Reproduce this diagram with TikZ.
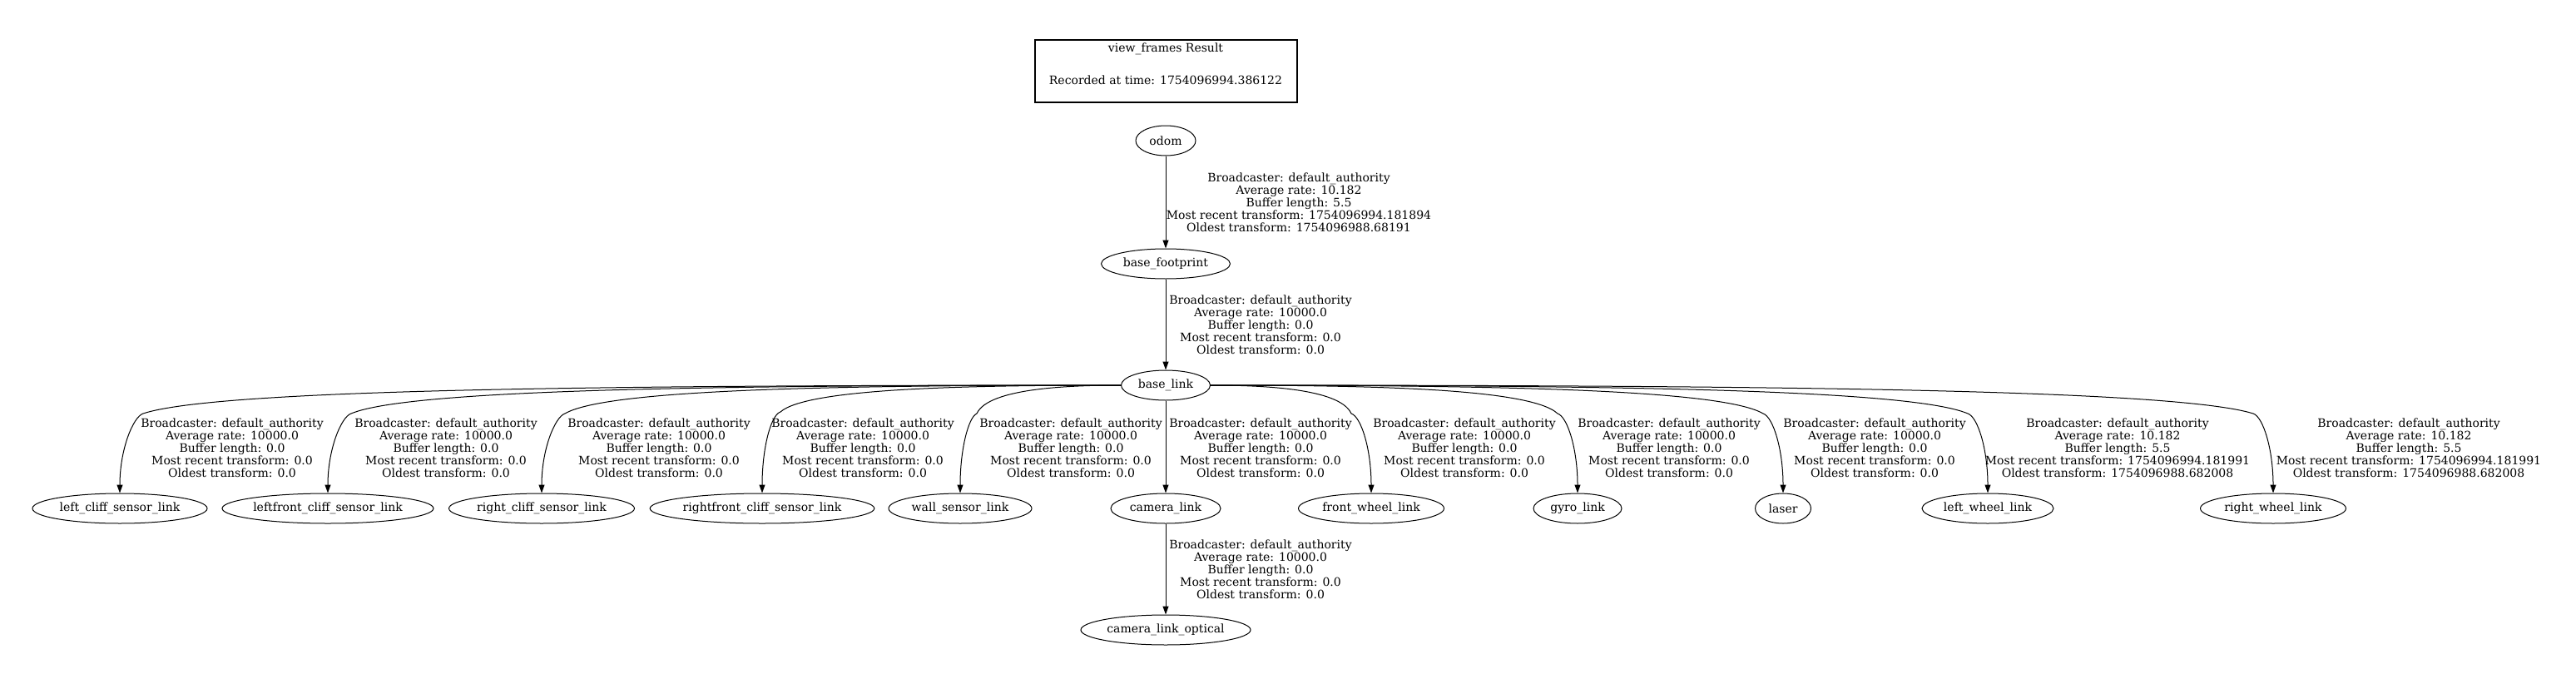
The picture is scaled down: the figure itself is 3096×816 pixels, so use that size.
\documentclass[tikz,border=0pt]{standalone}
\usepackage{fontspec}
\setmainfont{DejaVu Serif}
\usetikzlibrary{arrows.meta,shapes.geometric}
\newcommand\tfzerotxt{Broadcaster: default\_authority\\Average rate: 10000.0\\Buffer length: 0.0\\Most recent transform: 0.0\\Oldest transform: 0.0}
\newcommand\tfwheeltxt{Broadcaster: default\_authority\\Average rate: 10.182\\Buffer length: 5.5\\Most recent transform: 1754096994.181991\\Oldest transform: 1754096988.682008}
\begin{document}
\begin{tikzpicture}[x=1pt,y=-1pt,
  every node/.style={font=\fontsize{14}{15}\selectfont},
  frame/.style={ellipse,draw,line width=1pt,inner sep=0pt,minimum height=36pt},
  lbl/.style={align=center,inner sep=0pt},
  tf/.style={line width=1pt,-{Triangle[length=10pt,width=7pt]}}]
\useasboundingbox[fill=white] (0,0) rectangle (3096,816);

% legend
\node[draw,line width=2pt,minimum width=315pt,minimum height=75pt,inner sep=0pt] (legend) at (1401.5,85.5) {};
\node (legendA) at (1401,59) {view\_frames Result};
\node (legendB) at (1401,96) {Recorded at time: 1754096994.386122};

% frames
\node[frame,minimum width=72pt]  (odom) at (1401,169) {odom};
\node[frame,minimum width=155pt] (fp)   at (1401,317) {base\_footprint};
\node[frame,minimum width=107pt] (bl)   at (1401,463) {base\_link};

\node[frame,minimum width=210pt] (lc)  at (144,611)  {left\_cliff\_sensor\_link};
\node[frame,minimum width=254pt] (lfc) at (394,611)  {leftfront\_cliff\_sensor\_link};
\node[frame,minimum width=223pt] (rc)  at (651,611)  {right\_cliff\_sensor\_link};
\node[frame,minimum width=268pt] (rfc) at (916,611)  {rightfront\_cliff\_sensor\_link};
\node[frame,minimum width=172pt] (ws)  at (1154,611) {wall\_sensor\_link};
\node[frame,minimum width=132pt] (cam) at (1401,611) {camera\_link};
\node[frame,minimum width=175pt] (fw)  at (1648,611) {front\_wheel\_link};
\node[frame,minimum width=106pt] (gy)  at (1896,611) {gyro\_link};
\node[frame,minimum width=67pt]  (las) at (2143,611) {laser};
\node[frame,minimum width=158pt] (lw)  at (2389,611) {left\_wheel\_link};
\node[frame,minimum width=175pt] (rw)  at (2732,611) {right\_wheel\_link};
\node[frame,minimum width=204pt] (cop) at (1401,757) {camera\_link\_optical};

% straight edges
\draw[tf] (odom) -- (fp);
\draw[tf] (fp) -- (bl);
\draw[tf] (bl) -- (cam);
\draw[tf] (cam) -- (cop);

% bend corners
\coordinate (clc)  at (172,497);
\coordinate (clfc) at (422,497);
\coordinate (crc)  at (679,497);
\coordinate (crfc) at (938,495);
\coordinate (cws)  at (1174,497);
\coordinate (cfw)  at (1624,497);
\coordinate (cgy)  at (1872,497);
\coordinate (clas) at (2119,497);
\coordinate (clw)  at (2365,497);
\coordinate (crw)  at (2708,497);

% fanned edges (left)
\draw[tf] (bl) .. controls (786,463) and (266,466) .. (clc) .. controls (160,501) and (144,540) .. (lc);
\draw[tf] (bl) .. controls (911,463) and (496,466) .. (clfc) .. controls (410,501) and (394,540) .. (lfc);
\draw[tf] (bl) .. controls (1040,463) and (732,466) .. (crc) .. controls (667,501) and (651,540) .. (rc);
\draw[tf] (bl) .. controls (1170,463) and (971,466) .. (crfc) .. controls (926,499) and (916,540) .. (rfc);
\draw[tf] (bl) .. controls (1288,463) and (1188,466) .. (cws) .. controls (1164,501) and (1154,540) .. (ws);
% fanned edges (right)
\draw[tf] (bl) .. controls (1513,463) and (1610,466) .. (cfw) .. controls (1636,501) and (1648,540) .. (fw);
\draw[tf] (bl) .. controls (1637,463) and (1839,466) .. (cgy) .. controls (1884,501) and (1896,540) .. (gy);
\draw[tf] (bl) .. controls (1760,463) and (2066,466) .. (clas) .. controls (2131,501) and (2143,540) .. (las);
\draw[tf] (bl) .. controls (1883,463) and (2292,466) .. (clw) .. controls (2377,501) and (2389,540) .. (lw);
\draw[tf] (bl) .. controls (2055,463) and (2608,466) .. (crw) .. controls (2720,501) and (2732,540) .. (rw);

% edge labels
\node[lbl] (l_odom) at (1561,243) {Broadcaster: default\_authority\\Average rate: 10.182\\Buffer length: 5.5\\Most recent transform: 1754096994.181894\\Oldest transform: 1754096988.68191};
\node[lbl] (l_fp)  at (1515,390) {\tfzerotxt};
\node[lbl] (l_lc)  at (279,538)  {\tfzerotxt};
\node[lbl] (l_lfc) at (536,538)  {\tfzerotxt};
\node[lbl] (l_rc)  at (792,538)  {\tfzerotxt};
\node[lbl] (l_rfc) at (1037,538) {\tfzerotxt};
\node[lbl] (l_ws)  at (1287,538) {\tfzerotxt};
\node[lbl] (l_cam) at (1515,538) {\tfzerotxt};
\node[lbl] (l_fw)  at (1760,538) {\tfzerotxt};
\node[lbl] (l_gy)  at (2006,538) {\tfzerotxt};
\node[lbl] (l_las) at (2253,538) {\tfzerotxt};
\node[lbl] (l_lw)  at (2545,538) {\tfwheeltxt};
\node[lbl] (l_rw)  at (2895,538) {\tfwheeltxt};
\node[lbl] (l_cop) at (1515,684) {\tfzerotxt};
\end{tikzpicture}
\end{document}
